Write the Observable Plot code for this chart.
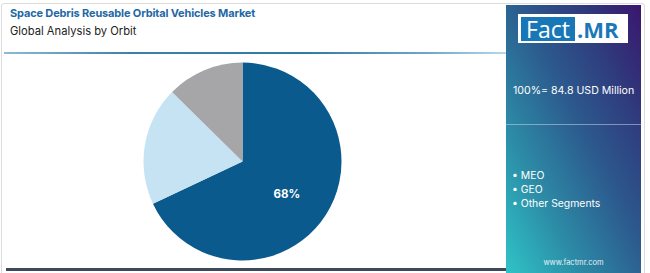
<!DOCTYPE html>
<html>
<head>
<meta charset="utf-8">
<script src="https://cdn.jsdelivr.net/npm/d3@7"></script>
<script src="https://cdn.jsdelivr.net/npm/@observablehq/plot@0.6"></script>
<style>
  html, body { margin: 0; padding: 0; background: #ffffff; }
  #card { position: relative; width: 650px; height: 273px; overflow: hidden; background: #fff; font-family: "Inter", "Open Sans", sans-serif; }
  #frame { position: absolute; left: 1px; top: 3px; width: 642px; height: 275px; border: 1px solid #dcdcdc; border-radius: 3px; }
  #title { position: absolute; left: 10px; top: 6px; font-size: 11px; font-weight: 700; color: #1f68a5; letter-spacing: -0.15px; white-space: nowrap; }
  #subtitle { position: absolute; left: 10px; top: 24px; font-size: 11.2px; color: #222; white-space: nowrap; }
  #rule { position: absolute; left: 4px; top: 52px; width: 502px; height: 2px; background: linear-gradient(to right, #8dbad4 0%, #3a82ad 25%, #2f7aa8 60%, #6fa9cc 85%, #b7d8ea 100%); }
  #bottom { position: absolute; left: 6px; top: 268px; width: 500px; height: 3px; background: #3e4a59; }
  #chart { position: absolute; left: 0; top: 60px; }
  #panel { position: absolute; left: 506px; top: 5px; width: 135px; height: 268px; background: linear-gradient(to top right, #2fc4c6 0%, #2c8aa6 28%, #2c5a8e 55%, #2f3a7c 78%, #3a166e 100%); color: #fff; }
  #logo { position: absolute; left: 12px; top: 9px; width: 110px; height: 29px; background: #fff; }
  #logo .fact { position: absolute; left: 3px; top: 3px; width: 54px; height: 24px; background: #1877b6; color: #fff; font-size: 23px; line-height: 24px; text-align: center; font-family: "Open Sans", sans-serif; }
  #logo .mr { position: absolute; left: 59px; top: 3px; height: 24px; color: #1a78b8; font-size: 22px; line-height: 24px; font-weight: 700; font-family: "Open Sans", sans-serif; }
  #total { position: absolute; left: 7px; top: 79px; font-size: 10.6px; white-space: nowrap; }
  #sep { position: absolute; left: 0; top: 119px; width: 135px; height: 1px; background: rgba(200,210,235,0.55); }
  #legend { position: absolute; left: 6px; top: 164px; font-size: 10.4px; line-height: 14px; white-space: nowrap; }
  #url { position: absolute; left: 0; width: 135px; top: 253px; text-align: center; font-size: 7.5px; color: #e6f2f7; }
</style>
</head>
<body>
<div id="card">
  <div id="frame"></div>
  <div id="title"></div>
  <div id="subtitle"></div>
  <div id="rule"></div>
  <div id="chart"></div>
  <div id="bottom"></div>
  <div id="panel">
    <div id="logo"><div class="fact">Fact</div><div class="mr">.MR</div></div>
    <div id="total"></div>
    <div id="sep"></div>
    <div id="legend"></div>
    <div id="url">www.factmr.com</div>
  </div>
</div>
<script>
const title = "Space Debris Reusable Orbital Vehicles Market";
const subtitle = "Global Analysis by Orbit";
const totalLabel = "100%= 84.8 USD Million";
const segments = ["LEO", "MEO", "Other Segments"];
const shares = [68, 19.4, 12.6];
const colors = ["#0b5a8d", "#c6e3f4", "#a6a5a7"];
const labelled = [true, false, false];
const legendItems = ["MEO", "GEO", "Other Segments"];

document.getElementById("title").textContent = title;
document.getElementById("subtitle").textContent = subtitle;
document.getElementById("total").textContent = totalLabel;
document.getElementById("legend").innerHTML = legendItems.map(d => "• " + d).join("<br>");

const data = segments.map((s, i) => ({segment: s, value: shares[i], color: colors[i], labelled: labelled[i]}));
const arcs = d3.pie().value(d => d.value).sort(null)(data);
const labelR = 0.56;
const labels = arcs.filter(a => a.data.labelled).map(a => {
  const mid = (a.startAngle + a.endAngle) / 2;
  return {x: Math.sin(mid) * labelR, y: Math.cos(mid) * labelR, text: Math.round(a.data.value) + "%"};
});

function pieMark(index, scales, values, dimensions) {
  const sx = scales.x, sy = scales.y;
  const cx = sx(0), cy = sy(0), r = sx(1) - sx(0);
  const g = d3.create("svg:g");
  const arc = d3.arc().innerRadius(0).outerRadius(r);
  g.selectAll("path").data(arcs).join("path")
    .attr("transform", `translate(${cx},${cy})`)
    .attr("d", arc)
    .attr("fill", d => d.data.color);
  return g.node();
}

const plot = Plot.plot({
  width: 500,
  height: 205,
  margin: 0,
  x: {domain: [-1, 1], range: [143.5, 341.5], axis: null},
  y: {domain: [-1, 1], range: [200.5, 2.5], axis: null},
  style: {background: "transparent", overflow: "visible"},
  marks: [
    pieMark,
    Plot.text(labels, {x: "x", y: "y", text: "text", fill: "#ffffff", fontSize: 11.5, fontWeight: 700, fontFamily: "Inter, sans-serif", dx: -3, dy: 3})
  ]
});
document.getElementById("chart").appendChild(plot);
</script>
</body>
</html>
